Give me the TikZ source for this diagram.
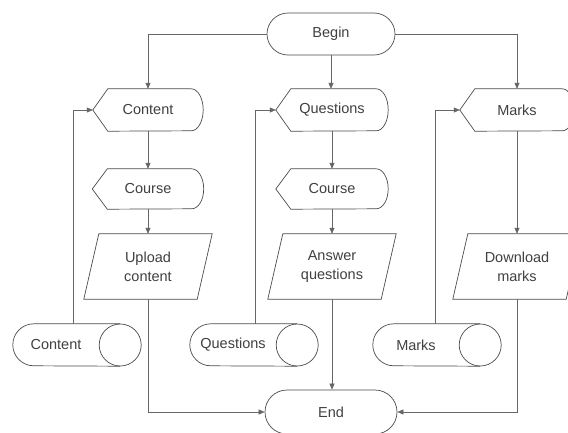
\documentclass[tikz,border=0pt]{standalone}
\usepackage{fontspec}
\setmainfont{Liberation Sans}
\usetikzlibrary{shapes.misc,arrows.meta}

\tikzset{
  every node/.style={font=\fontsize{14.5}{19}\selectfont, text=black!75},
  term/.style={rounded rectangle, draw=black!70, line width=0.7pt,
    minimum height=42pt, inner sep=0pt},
  frame/.style={rectangle, inner sep=0pt, align=center},
  outline/.style={draw=black!70, line width=0.7pt},
  link/.style={draw=black!60, line width=0.6pt},
  arr/.style={link, -{Triangle[length=6pt,width=5pt]}},
}

% display symbol: pointed left end, rounded right end
\newcommand\dispoutline[2]{%
  \draw[outline] (#1.west) -- ([xshift=15pt]#1.north west)
    -- ([xshift=-12pt]#1.north east)
    arc[start angle=90,end angle=-90,x radius=12pt,y radius=#2]
    -- ([xshift=15pt]#1.south west) -- cycle;}

% slanted input/output box
\newcommand\paraoutline[1]{%
  \draw[outline] ([xshift=7.5pt]#1.north west) -- ([xshift=7.5pt]#1.north east)
    -- ([xshift=-7.5pt]#1.south east) -- ([xshift=-7.5pt]#1.south west) -- cycle;}

% stored data drum lying on its side
\newcommand\drumoutline[1]{%
  \draw[outline] ([xshift=21pt]#1.north east) -- ([xshift=21pt]#1.north west)
    arc[start angle=90,end angle=270,radius=21pt] -- ([xshift=21pt]#1.south east);
  \draw[outline] ([xshift=21pt]#1.east) circle[radius=21pt];}

\begin{document}
\begin{tikzpicture}[x=1pt,y=-1pt]
  \useasboundingbox (0,0) rectangle (568,432);
  \clip (0,0) rectangle (568,432);
  \fill[white] (0,0) rectangle (568,432);

  % terminals
  \node[term, minimum width=128pt] (begin) at (331,34) {Begin};
  \node[term, minimum width=132pt, minimum height=44pt] (end) at (331,412) {End};

  % displays
  \node[frame, minimum width=110pt, minimum height=42pt] (content)   at (148,110) {Content};
  \node[frame, minimum width=112pt, minimum height=42pt] (questions) at (332,110) {Questions};
  \node[frame, minimum width=114pt, minimum height=42pt] (marks)     at (517,110) {Marks};
  \node[frame, minimum width=111pt, minimum height=40pt] (course1)   at (148,189) {Course};
  \node[frame, minimum width=112pt, minimum height=40pt] (course2)   at (332,189) {Course};
  \dispoutline{content}{21pt}
  \dispoutline{questions}{21pt}
  \dispoutline{marks}{21pt}
  \dispoutline{course1}{20pt}
  \dispoutline{course2}{20pt}

  % input/output boxes
  \node[frame, minimum width=113pt, minimum height=65pt] (upload)   at (148,266.5) {Upload\\content};
  \node[frame, minimum width=113pt, minimum height=65pt] (answer)   at (332,266.5) {Answer\\questions};
  \node[frame, minimum width=113pt, minimum height=65pt] (download) at (517,266.5) {Download\\marks};
  \paraoutline{upload}
  \paraoutline{answer}
  \paraoutline{download}

  % stored data
  \node[frame, minimum width=86pt, minimum height=42pt] (cstore) at (56,345) {Content};
  \node[frame, minimum width=86pt, minimum height=42pt] (qstore) at (233,345) {Questions};
  \node[frame, minimum width=86pt, minimum height=42pt] (mstore) at (416,345) {Marks};
  \drumoutline{cstore}
  \drumoutline{qstore}
  \drumoutline{mstore}

  % flow
  \draw[arr] (begin.west) -| (content.north);
  \draw[arr] (begin.south) -- (begin.south |- questions.north);
  \draw[arr] (begin.east) -| (marks.north);

  \draw[arr] (content.south) -- (course1.north);
  \draw[arr] (course1.south) -- (upload.north);
  \draw[arr] (upload.south) |- (end.west);

  \draw[arr] (questions.south) -- (course2.north);
  \draw[arr] (course2.south) -- (answer.north);
  \draw[arr] (answer.south) -- (answer.south |- end.north);

  \draw[arr] (marks.south) -- (download.north);
  \draw[arr] (download.south) |- (end.east);

  % stores feeding back into the displays
  \draw[arr] ([xshift=17pt]cstore.north) |- (content.west);
  \draw[arr] ([xshift=22pt]qstore.north) |- (questions.west);
  \draw[arr] ([xshift=19pt]mstore.north) |- (marks.west);
\end{tikzpicture}
\end{document}
